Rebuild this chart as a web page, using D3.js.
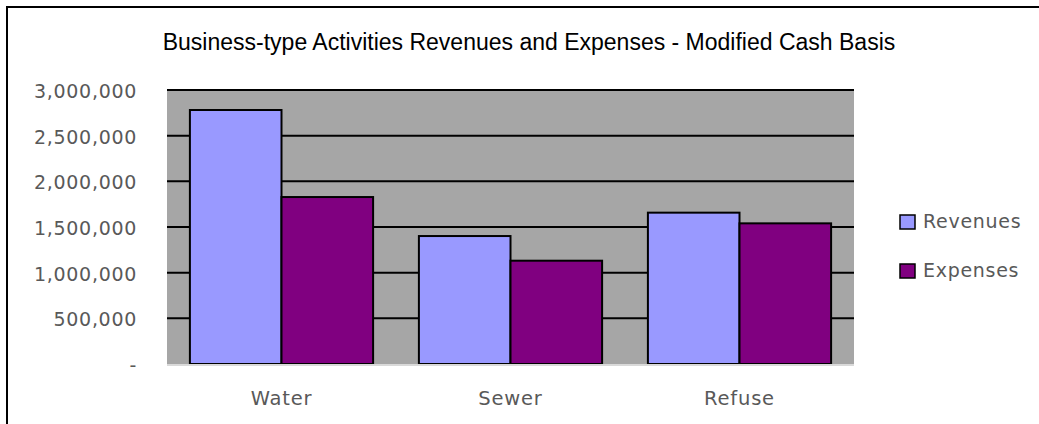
<!DOCTYPE html>
<html>
<head>
<meta charset="utf-8">
<script src="https://cdn.jsdelivr.net/npm/d3@7"></script>
<style>
  html, body { margin: 0; padding: 0; background: #fff; }
  svg { display: block; }
</style>
</head>
<body>
<div id="chart"></div>
<script>
// Chart data
const categories = ['Water', 'Sewer', 'Refuse'];
const seriesNames = ['Revenues', 'Expenses'];
const revenues = [2781000, 1401000, 1657000];
const expenses = [1828000, 1131000, 1540000];
const yTicks = [0, 500000, 1000000, 1500000, 2000000, 2500000, 3000000];
const titleText = 'Business-type Activities Revenues and Expenses - Modified Cash Basis';

const colors = { Revenues: '#9999FF', Expenses: '#800080' };
const width = 1039, height = 424;
const plot = { left: 167, right: 854, top: 90, bottom: 364 };

const svg = d3.select('#chart').append('svg')
    .attr('width', width)
    .attr('height', height);

// outer chart border (only top and left visible in the frame)
svg.append('rect')
    .attr('x', 7).attr('y', 7)
    .attr('width', width + 20).attr('height', height + 20)
    .attr('fill', '#fff')
    .attr('stroke', '#000')
    .attr('stroke-width', 2);

// title
svg.append('text')
    .attr('x', 529).attr('y', 50)
    .attr('text-anchor', 'middle')
    .attr('font-family', 'Liberation Sans, Arial, sans-serif')
    .attr('font-size', 23)
    .attr('fill', '#000')
    .text(titleText);

const x0 = d3.scaleBand()
    .domain(categories)
    .range([plot.left, plot.right])
    .paddingInner(0).paddingOuter(0);

const x1 = d3.scaleBand()
    .domain(seriesNames)
    .range([0, x0.bandwidth()])
    .paddingInner(0).paddingOuter(0.25);

const y = d3.scaleLinear()
    .domain([0, 3000000])
    .range([plot.bottom, plot.top]);

// plot background
svg.append('rect')
    .attr('x', plot.left).attr('y', plot.top)
    .attr('width', plot.right - plot.left)
    .attr('height', plot.bottom - plot.top)
    .attr('fill', '#a6a6a6');

// gridlines
svg.append('g')
    .selectAll('line')
    .data(yTicks.filter(d => d > 0))
    .join('line')
    .attr('x1', plot.left).attr('x2', plot.right)
    .attr('y1', d => y(d)).attr('y2', d => y(d))
    .attr('stroke', '#000')
    .attr('stroke-width', 2);

// y tick labels
const fmt = d3.format(',');
svg.append('g')
    .selectAll('text')
    .data(yTicks)
    .join('text')
    .attr('x', 137)
    .attr('y', d => y(d) + 8)
    .attr('text-anchor', 'end')
    .attr('font-family', 'DejaVu Sans, sans-serif')
    .attr('font-size', 19)
    .attr('letter-spacing', 0.7)
    .attr('fill', '#595959')
    .text(d => d === 0 ? '-' : fmt(d));

// bars
const rows = categories.map((c, i) => ({ cat: c, values: [
    { name: 'Revenues', value: revenues[i] },
    { name: 'Expenses', value: expenses[i] }
] }));

svg.append('g')
    .selectAll('g')
    .data(rows)
    .join('g')
    .attr('transform', d => `translate(${x0(d.cat)},0)`)
    .selectAll('rect')
    .data(d => d.values)
    .join('rect')
    .attr('x', d => x1(d.name))
    .attr('y', d => y(d.value))
    .attr('width', x1.bandwidth())
    .attr('height', d => y(0) - y(d.value))
    .attr('fill', d => colors[d.name])
    .attr('stroke', '#000')
    .attr('stroke-width', 2);

// category axis line
svg.append('line')
    .attr('x1', plot.left).attr('x2', plot.right)
    .attr('y1', y(0) + 1).attr('y2', y(0) + 1)
    .attr('stroke', '#d9d9d9')
    .attr('stroke-width', 2);

// category labels
svg.append('g')
    .selectAll('text')
    .data(categories)
    .join('text')
    .attr('x', d => x0(d) + x0.bandwidth() / 2)
    .attr('y', 405)
    .attr('text-anchor', 'middle')
    .attr('font-family', 'DejaVu Sans, sans-serif')
    .attr('font-size', 19.5)
    .attr('letter-spacing', 0.8)
    .attr('fill', '#595959')
    .text(d => d);

// legend
const legend = svg.append('g')
    .selectAll('g')
    .data(seriesNames)
    .join('g')
    .attr('transform', (d, i) => `translate(900, ${215 + i * 49})`);

legend.append('rect')
    .attr('width', 15).attr('height', 14)
    .attr('fill', d => colors[d])
    .attr('stroke', '#000')
    .attr('stroke-width', 1.5);

legend.append('text')
    .attr('x', 23).attr('y', 13)
    .attr('font-family', 'DejaVu Sans, sans-serif')
    .attr('font-size', 19)
    .attr('letter-spacing', 0.7)
    .attr('fill', '#595959')
    .text(d => d);
</script>
</body>
</html>
